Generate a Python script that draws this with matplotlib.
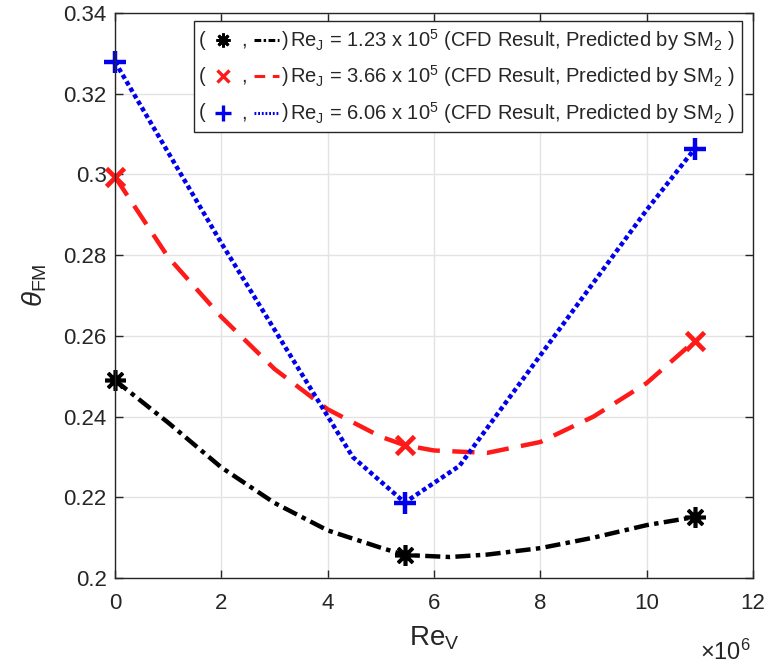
import matplotlib
matplotlib.use("Agg")
import matplotlib.pyplot as plt
from matplotlib.lines import Line2D
from matplotlib.patches import Rectangle

plt.rcParams['font.family'] = ['Liberation Sans', 'DejaVu Sans']
plt.rcParams['mathtext.fontset'] = 'custom'
plt.rcParams['mathtext.rm'] = 'Liberation Sans'
plt.rcParams['mathtext.it'] = 'Liberation Sans:italic'

# ---- data (Re_V in units of 1e6) ----
cfd_x = [0.0, 5.45, 10.9]
cfd_black = [0.2490, 0.2057, 0.2151]
cfd_red = [0.2994, 0.2329, 0.2587]
cfd_blue = [0.3279, 0.2187, 0.3063]

sm_x_black = [0, 1, 2, 3, 4, 5, 5.45, 6.3, 7, 8, 9, 10, 10.9]
sm_black = [0.2490, 0.2385, 0.2274, 0.2186, 0.2118, 0.2075, 0.2057, 0.2052,
            0.2058, 0.2074, 0.2100, 0.2131, 0.2151]
sm_x_red = [0, 1, 2, 3, 4, 5, 5.45, 6, 7, 8, 9, 10, 10.9]
sm_red = [0.2994, 0.2795, 0.2647, 0.2518, 0.2418, 0.2350, 0.2329, 0.2316,
          0.2310, 0.2337, 0.2400, 0.2483, 0.2587]
sm_x_blue = [0, 2, 4.47, 5.45, 6.48, 10.0, 10.9]
sm_blue = [0.3279, 0.2830, 0.2300, 0.2187, 0.2278, 0.2912, 0.3063]

legend_labels = [
    r"Re$_\mathregular{J}$ = 1.23 x 10$^\mathregular{5}$ (CFD Result, Predicted by SM$_\mathregular{2}$ )",
    r"Re$_\mathregular{J}$ = 3.66 x 10$^\mathregular{5}$ (CFD Result, Predicted by SM$_\mathregular{2}$ )",
    r"Re$_\mathregular{J}$ = 6.06 x 10$^\mathregular{5}$ (CFD Result, Predicted by SM$_\mathregular{2}$ )",
]
xticks = [0, 2, 4, 6, 8, 10, 12]
yticks = [0.2, 0.22, 0.24, 0.26, 0.28, 0.3, 0.32, 0.34]
ytick_labels = ['0.2', '0.22', '0.24', '0.26', '0.28', '0.3', '0.32', '0.34']

W, H = 771, 672
fig = plt.figure(figsize=(W / 100, H / 100), dpi=100)
L, R, T, B = 115, 753, 13, 578
ax = fig.add_axes([L / W, 1 - B / H, (R - L) / W, (B - T) / H])

lw = 3.2
ax.plot(sm_x_black, sm_black, color='black', ls='-.', lw=lw, dashes=[3.4, 1.2, 1.0, 1.2])
ax.plot(sm_x_red, sm_red, color='#ff1a1a', ls='--', lw=lw, dashes=[5, 2.8])
ax.plot(sm_x_blue, sm_blue, color='#0000ee', ls=':', lw=lw, dashes=[1, 0.7])

ax.plot(cfd_x, cfd_black, ls='none', marker=(8, 2, 0), ms=15, mew=2.6, color='black', clip_on=False)
ax.plot(cfd_x, cfd_red, ls='none', marker='x', ms=13, mew=3.4, color='#ff1a1a', clip_on=False)
ax.plot(cfd_x, cfd_blue, ls='none', marker='+', ms=16, mew=3.2, color='#0000ee', clip_on=False)

ax.set_xlim(0, 12)
ax.set_ylim(0.2, 0.34)
ax.set_xticks(xticks)
ax.set_yticks(yticks)
ax.set_yticklabels(ytick_labels)
ax.grid(True, color='#e3e3e3', lw=1.0)
ax.set_axisbelow(True)
ax.tick_params(direction='in', length=6, width=1, colors='#262626', labelsize=16,
               top=True, right=True)
ax.tick_params(axis='x', pad=11)
ax.tick_params(axis='y', pad=6)
for s in ax.spines.values():
    s.set_color('#262626')
    s.set_linewidth(1.0)

# axis labels
fig.text(434 / W, 1 - 638 / H, r"Re$_\mathregular{V}$", fontsize=20, color='#262626',
         ha='center', va='center')
fig.text(725 / W, 1 - 652 / H, r"$\times$10$^\mathregular{6}$", fontsize=17, color='#262626',
         ha='center', va='center')
fig.text(35 / W, 1 - 285 / H, r"$\theta_\mathregular{FM}$", fontsize=20, color='#262626',
         ha='center', va='center', rotation=90)

# legend (manual, MATLAB-like)
def fx(px):
    return px / W

def fy(py):
    return 1 - py / H

box = Rectangle((fx(194), fy(132)), fx(742) - fx(194), fy(21) - fy(132),
                transform=fig.transFigure, facecolor='white', edgecolor='#262626',
                lw=1.0, zorder=10)
fig.add_artist(box)
rows_y = [40, 76, 113]
styles = [
    dict(color='black', marker=(8, 2, 0), ms=10, mew=2.0, dashes=[2.2, 0.8, 0.8, 0.8]),
    dict(color='#ff1a1a', marker='x', ms=8, mew=2.4, dashes=[3.5, 2.5]),
    dict(color='#0000ee', marker='+', ms=11, mew=2.4, dashes=[0.6, 0.6]),
]
fs = 14.5
for yy, st, lab in zip(rows_y, styles, legend_labels):
    fig.text(fx(199), fy(yy), "(", fontsize=fs, color='#262626', va='center', ha='left', zorder=11)
    fig.add_artist(Line2D([fx(223)], [fy(yy)], transform=fig.transFigure, color=st['color'],
                          marker=st['marker'], ms=st['ms'], mew=st['mew'], ls='none', zorder=11))
    fig.text(fx(241), fy(yy), ",", fontsize=fs, color='#262626', va='center', ha='left', zorder=11)
    fig.add_artist(Line2D([fx(254), fx(279)], [fy(yy), fy(yy)], transform=fig.transFigure,
                          color=st['color'], lw=2.2, dashes=st['dashes'], zorder=11))
    fig.text(fx(282), fy(yy), ")", fontsize=fs, color='#262626', va='center', ha='left', zorder=11)
    fig.text(fx(290), fy(yy), lab, fontsize=fs, color='#262626', va='center', ha='left', zorder=11)

fig.savefig("out.png", dpi=100)
